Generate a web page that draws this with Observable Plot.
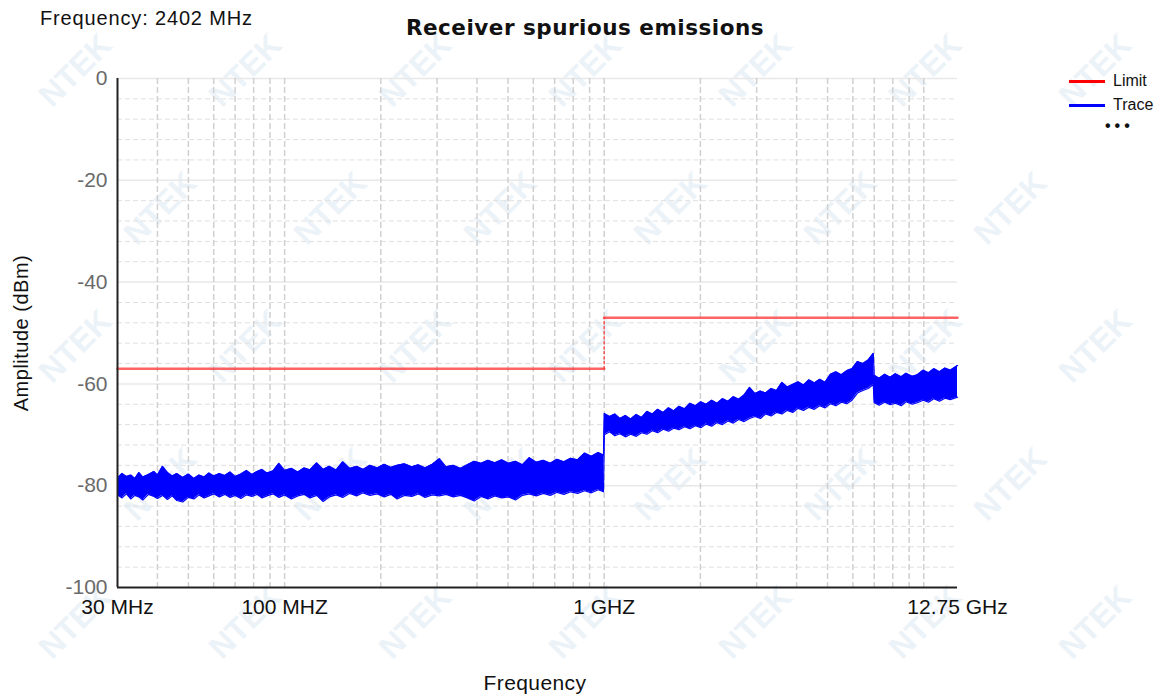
<!DOCTYPE html>
<html>
<head>
<meta charset="utf-8">
<script src="https://cdn.jsdelivr.net/npm/d3@7"></script>
<script src="https://cdn.jsdelivr.net/npm/@observablehq/plot@0.6"></script>
<style>
  html, body { margin: 0; padding: 0; background: #fff; }
  #wrap { position: relative; width: 1172px; height: 699px; overflow: hidden; font-family: "Liberation Sans", Arial, sans-serif; }
  .wm { position: absolute; font-family: "Liberation Sans", Arial, sans-serif; font-weight: bold; font-size: 32px; line-height: 32px; color: #c3d8ea; opacity: 0.3; transform: translate(-50%,-50%) rotate(-45deg); pointer-events: none; white-space: nowrap; z-index: 0; }
  #chart { position: absolute; left: 0; top: 0; z-index: 1; }
  .t { position: absolute; white-space: nowrap; z-index: 2; color: #111; }
</style>
</head>
<body>
<div id="wrap">
  <div class="t" style="left:40px; top:7px; font-size:20px; letter-spacing:0.85px;">Frequency: 2402 MHz</div>
  <div class="t" style="left:585px; top:15px; transform:translateX(-50%); font-family:'DejaVu Sans', sans-serif; font-size:21.5px; font-weight:bold; letter-spacing:0.5px;">Receiver spurious emissions</div>
  <div class="t" style="left:535px; top:671px; transform:translateX(-50%); font-size:21px; letter-spacing:0.4px;">Frequency</div>
  <div class="t" style="left:21px; top:333px; font-size:20px; letter-spacing:0.5px; transform: translate(-50%,-50%) rotate(-90deg);">Amplitude (dBm)</div>
  <div id="legend" class="t" style="left:1069px; top:69px; font-size:16px;">
    <div style="display:flex; align-items:center; height:24px;"><span style="display:inline-block; width:36px; height:3px; background:#ff0000; margin-right:8px;"></span>Limit</div>
    <div style="display:flex; align-items:center; height:24px;"><span style="display:inline-block; width:36px; height:3px; background:#0000ff; margin-right:8px;"></span>Trace</div>
    <div style="padding-left:36px; font-size:16px; letter-spacing:4px; line-height:18px; font-weight:bold;">•••</div>
  </div>
  <div id="chart"></div>
</div>
<script>
// ---- data ----
const xTickValues = [30, 100, 1000, 12750];
const xTickLabels = ["30 MHz", "100 MHZ", "1 GHZ", "12.75 GHz"];
const yTickValues = [0, -20, -40, -60, -80, -100];
const gridFreqs = [40, 50, 60, 70, 80, 90, 100, 200, 300, 400, 500, 600, 700, 800, 900, 1000,
                   2000, 3000, 4000, 5000, 6000, 7000, 8000, 9000, 10000];
const gridMinorLevels = [-4, -8, -12, -16, -24, -28, -32, -36, -44, -48, -52, -56, -64, -68, -72, -76, -84, -88, -92, -96];
const gridMajorLevels = [0, -20, -40, -60, -80];

const limitFreqs = [30, 1000, 1000, 12750];
const limitLevels = [-57, -57, -47, -47];

const traceFreqs = [
  30, 31, 32, 33, 34, 35, 36, 37.5, 39, 40, 41.5, 43, 44.5, 46, 48, 50, 52, 54, 56, 58,
  60, 62.5, 65, 67.5, 70, 73, 76, 79, 82, 85, 88, 92, 96, 100, 105, 110, 115, 120, 126, 132,
  138, 145, 152, 160, 168, 176, 185, 195, 205, 215, 225, 237, 250, 262, 275, 290, 305, 320, 337, 355,
  373, 392, 412, 433, 455, 478, 502, 528, 555, 583, 613, 645, 678, 712, 748, 786, 826, 868, 912, 958, 995,
  1001, 1040, 1080, 1120, 1165, 1210, 1260, 1310, 1360, 1415, 1470, 1530, 1590, 1650, 1715, 1785, 1855, 1930,
  2005, 2085, 2170, 2255, 2345, 2440, 2535, 2635, 2740, 2850, 2965, 3080, 3200, 3330, 3460, 3600, 3740, 3890,
  4045, 4205, 4370, 4545, 4725, 4910, 5105, 5310, 5520, 5740, 5965, 6200, 6450, 6700, 6950,
  7000, 7250, 7550, 7850, 8150, 8500, 8800, 9200, 9550, 9950, 10350, 10750, 11200, 11650, 12100, 12750
];
const traceHigh = [
  -78.5, -77.6, -78.2, -77.9, -78.6, -77.4, -78.3, -77.8, -77.2, -77.9, -76.2, -77.4, -78.1, -77.6, -78.4, -77.7, -78.6, -77.9, -78.3, -77.5,
  -78.1, -77.6, -78.0, -77.3, -78.2, -77.7, -77.0, -77.8, -77.2, -76.8, -77.5, -77.1, -75.6, -77.0, -76.6, -77.3, -76.5, -76.9, -75.5, -76.8,
  -76.2, -76.9, -75.3, -76.6, -76.2, -76.8, -76.0, -76.5, -75.8, -76.4, -76.0, -75.7, -76.3, -75.9, -76.5, -75.8, -74.7, -76.3, -76.0, -76.6,
  -75.9, -75.2, -75.6, -75.0, -75.5, -74.9, -75.6, -75.2, -75.9, -74.5, -75.4, -75.0, -75.6, -74.8, -75.3, -74.6, -74.9, -73.6, -74.2, -73.5, -74.0,
  -65.8, -66.4, -65.9, -66.8, -66.2, -66.9, -66.0, -66.6, -65.4, -65.9, -65.0, -65.6, -64.7, -65.3, -64.4, -64.9, -63.8, -64.3,
  -63.5, -64.0, -63.2, -63.8, -62.9, -63.4, -62.5, -63.0, -62.2, -60.7, -61.9, -61.4, -61.8, -60.9, -61.3, -59.7, -60.6, -60.1,
  -59.6, -60.2, -59.2, -59.8, -59.1, -59.7, -58.1, -57.6, -58.2, -57.4, -57.0, -55.6, -56.0, -55.3, -54.0,
  -58.3, -58.9, -58.1, -58.7, -58.0, -58.6, -57.9, -58.5, -58.2, -57.3, -57.8, -57.0, -57.6, -56.9, -57.3, -56.4
];
const traceLow = [
  -81.8, -82.4, -81.6, -82.6, -81.9, -82.2, -82.8, -81.7, -82.1, -82.5, -81.9, -82.7, -82.0, -82.9, -83.2, -82.3, -82.6, -81.8, -82.4, -82.0,
  -81.6, -82.2, -81.7, -82.3, -81.9, -82.5, -81.8, -82.1, -81.7, -82.4, -82.0, -81.6, -82.3, -81.8, -82.6, -82.0, -81.7, -82.4, -81.9, -83.1,
  -82.2, -81.8, -82.3, -81.5, -82.0, -81.4, -81.9, -81.6, -82.2, -81.7, -82.6, -81.9, -82.1, -81.6, -82.3, -81.8, -82.0, -81.7, -82.2, -81.9,
  -82.4, -83.0, -82.1, -82.6, -82.0, -82.4, -82.2, -82.8, -81.9, -81.6, -82.0, -81.5, -81.9, -81.3, -81.7, -81.2, -81.5, -81.0, -81.4, -80.8, -81.2,
  -70.0, -69.4, -70.2, -69.8, -70.4, -69.9, -70.3, -69.6, -69.9, -69.2, -69.6, -68.9, -69.3, -68.7, -69.0, -68.4, -68.8, -68.2,
  -68.6, -67.9, -68.3, -67.6, -68.0, -67.3, -67.7, -67.0, -67.4, -66.8, -66.4, -66.8, -65.9, -66.3, -65.6, -65.9, -65.2, -65.6,
  -64.8, -65.2, -64.6, -65.0, -64.3, -64.7, -63.9, -64.3, -63.6, -63.9, -63.2, -61.8, -61.3, -60.9, -60.1,
  -63.7, -64.2, -63.6, -64.1, -63.8, -64.3, -63.5, -64.0, -63.7, -63.2, -63.6, -62.9, -63.4, -62.8, -63.1, -62.6
];

// ---- tables built from the arrays ----
const trace = traceFreqs.map((f, i) => ({f, hi: traceHigh[i], lo: traceLow[i]}));
const limit = limitFreqs.map((f, i) => ({f, v: limitLevels[i]}));
const xLabel = new Map(xTickValues.map((v, i) => [v, xTickLabels[i]]));

// ---- watermark (decoration, kept inside the picture) ----
const wrap = document.getElementById("wrap");
for (let j = 0; j < 5; j++) {
  for (let i = 0; i < 7; i++) {
    const cx = 75 + i * 170 + (j % 2) * 85;
    const cy = 70 + j * 138;
    if (cx > 1100) continue;
    const d = document.createElement("div");
    d.className = "wm";
    d.textContent = "NTEK";
    d.style.left = cx + "px";
    d.style.top = cy + "px";
    wrap.appendChild(d);
  }
}

const chart = Plot.plot({
  width: 1172,
  height: 699,
  marginLeft: 117,
  marginRight: 215,
  marginTop: 78,
  marginBottom: 112,
  style: {background: "transparent", fontFamily: "Liberation Sans, Arial, sans-serif", overflow: "visible"},
  x: {type: "log", domain: [30, 12750]},
  y: {domain: [-100, 0]},
  marks: [
    Plot.ruleY(gridMinorLevels, {stroke: "#e0e0e0", strokeWidth: 1, strokeDasharray: "5,3"}),
    Plot.ruleY(gridMajorLevels, {stroke: "#e8e8e8", strokeWidth: 1.5}),
    Plot.ruleX(gridFreqs, {stroke: "#d0d0d0", strokeWidth: 1.5, strokeDasharray: "6,3"}),
    Plot.areaY(trace, {x: "f", y1: "lo", y2: "hi", fill: "#0000ff", curve: "linear"}),
    Plot.line(trace, {x: "f", y: "hi", stroke: "#0000ff", strokeWidth: 1.2, curve: "linear"}),
    Plot.line(trace, {x: "f", y: "lo", stroke: "#0000ff", strokeWidth: 1.2, curve: "linear"}),
    Plot.line(limit.slice(0, 2), {x: "f", y: "v", stroke: "#ff3030", strokeOpacity: 0.75, strokeWidth: 2.5}),
    Plot.line(limit.slice(2, 4), {x: "f", y: "v", stroke: "#ff3030", strokeOpacity: 0.75, strokeWidth: 2.5}),
    Plot.line(limit.slice(1, 3), {x: "f", y: "v", stroke: "#ff3030", strokeOpacity: 0.8, strokeWidth: 1.5, strokeDasharray: "2,3"}),
    Plot.ruleX([30], {stroke: "#222", strokeWidth: 2}),
    Plot.ruleY([-100], {stroke: "#222", strokeWidth: 2}),
    Plot.axisX(xTickValues, {tickSize: 0, tickPadding: 12, fontSize: 21, fill: "#111", tickFormat: d => xLabel.get(d), label: null}),
    Plot.axisY(yTickValues, {tickSize: 0, tickPadding: 10, fontSize: 21, fill: "#6a6a6a", tickFormat: d => String(d), label: null})
  ]
});
document.getElementById("chart").appendChild(chart);
</script>
</body>
</html>
